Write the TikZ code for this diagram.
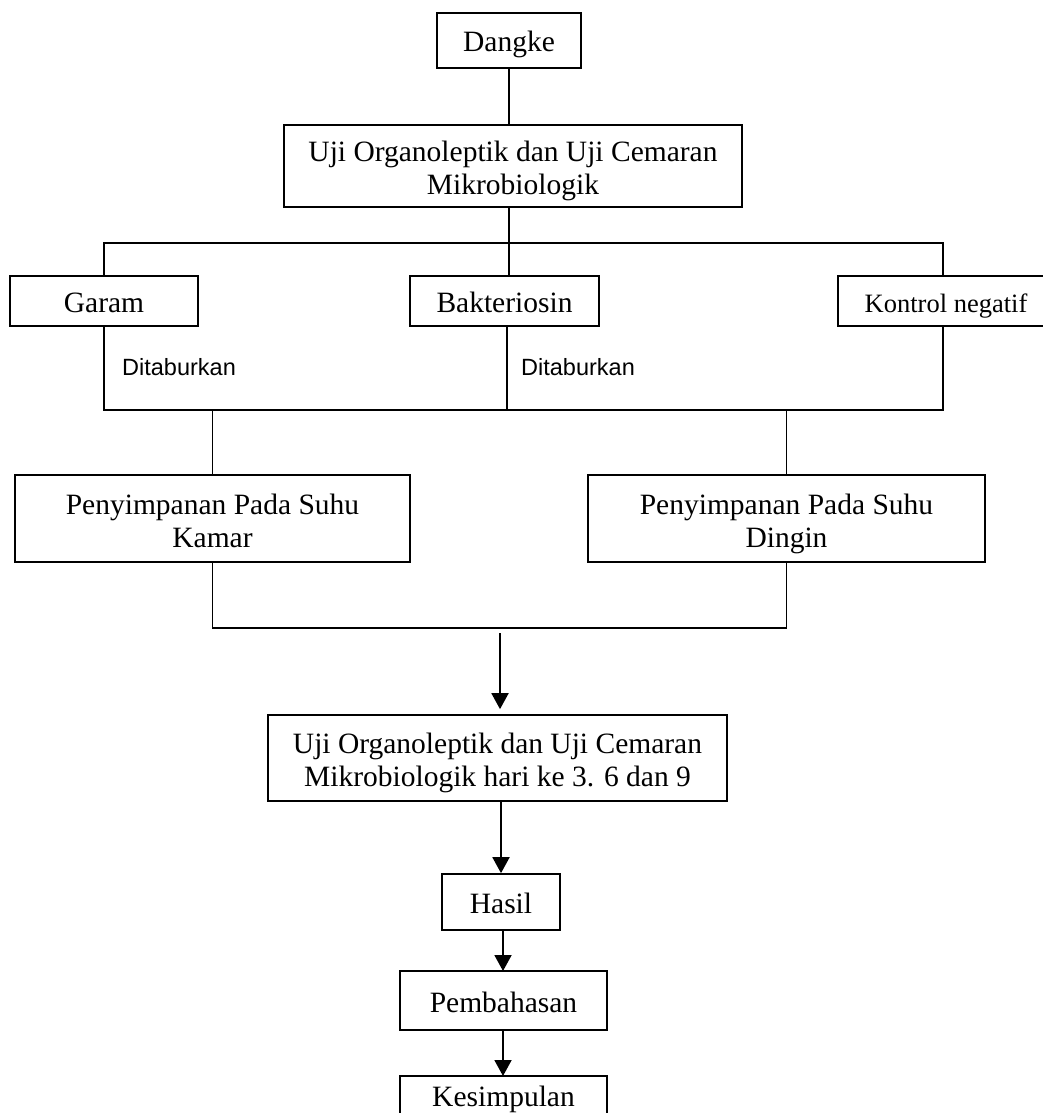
\documentclass[tikz,border=0pt]{standalone}
\usepackage{fontspec}
\setmainfont{Liberation Serif}
\newfontfamily\labelfont{Liberation Sans}
\usepackage{tikz}
\usetikzlibrary{arrows.meta,positioning,calc}

\begin{document}
\begin{tikzpicture}[
    x=1pt,y=-1pt,
    >={Triangle[length=16pt,width=17pt]},
    line/.style={draw=black,line width=1.5pt},
    arrow/.style={->,draw=black,line width=1.9pt},
    stepbox/.style={draw=black,line width=1.7pt,inner sep=0pt,align=center,
      text height=24pt,text depth=1pt,font=\fontsize{29.5}{33}\selectfont},
    twoline/.style={stepbox,text height=58pt},
    note/.style={anchor=base west,inner sep=0pt,font=\labelfont\fontsize{23.5}{27}\selectfont}
  ]
    \useasboundingbox (0,0) rectangle (1043,1113);
    % boxes
    \node[stepbox,minimum width=144pt,minimum height=55pt] (dangke) at (509,40.5) {Dangke};
    \node[twoline,minimum width=458pt,minimum height=82pt] (uji1) at (513,166)
      {Uji Organoleptik dan Uji Cemaran\\Mikrobiologik};
    \node[stepbox,minimum width=188pt,minimum height=50pt] (garam) at (104,301) {Garam};
    \node[stepbox,minimum width=189pt,minimum height=50pt] (bakteri) at (504.5,301) {Bakteriosin};
    \node[stepbox,minimum width=216pt,minimum height=50pt,
      font=\fontsize{26.5}{31}\selectfont] (kontrol) at (946,301) {Kontrol negatif};
    \node[twoline,minimum width=395pt,minimum height=87pt] (kamar) at (212.5,518.5)
      {Penyimpanan Pada Suhu\\Kamar};
    \node[twoline,minimum width=397pt,minimum height=87pt] (dingin) at (786.5,518.5)
      {Penyimpanan Pada Suhu\\Dingin};
    \node[twoline,minimum width=459pt,minimum height=86pt] (uji2) at (497.5,758)
      {Uji Organoleptik dan Uji Cemaran\\Mikrobiologik hari ke 3. 6 dan 9};
    \node[stepbox,minimum width=118pt,minimum height=56pt] (hasil) at (501,902) {Hasil};
    \node[stepbox,minimum width=207pt,minimum height=59pt] (bahas) at (503.5,1000.5) {Pembahasan};
    \node[stepbox,minimum width=207pt,minimum height=38pt] (simpul) at (503.5,1095) {Kesimpulan};
    % bus points
    \coordinate (topL) at (104,243);
    \coordinate (topM) at (509,243);
    \coordinate (topR) at (943,243);
    \coordinate (midL) at (104,410);
    \coordinate (midR) at (943,410);
    \coordinate (lowL) at (214,628);
    \coordinate (lowM) at (500,633);
    % connectors
    \draw[line] (dangke.south) -- (dangke.south |- uji1.north);
    \draw[line] (uji1.south -| topM) -- (topM) -- (bakteri.north -| topM);
    \draw[line] (garam.north) |- (topR) -- (topR |- kontrol.north);
    \draw[line] (garam.south) -- (midL) -- (midR) -- (midR |- kontrol.south);
    \draw[line] (bakteri.south -| 507,0) -- (507,410);
    \draw[line] (kamar.north) -- (kamar.north |- midL);
    \draw[line] (dingin.north) -- (dingin.north |- midL);
    \draw[line] (kamar.south) |- (dingin.south |- lowL) -- (dingin.south);
    \draw[arrow,shorten >=5pt] (lowM) -- (lowM |- uji2.north);
    \draw[arrow] (uji2.south -| hasil.north) -- (hasil.north);
    \draw[arrow] (hasil.south -| 503,0) -- (503,971);
    \draw[arrow] (bahas.south -| 503,0) -- (503,1076);
    % labels
    \node[note] (tabur1) at (122,375) {Ditaburkan};
    \node[note] (tabur2) at (521,375) {Ditaburkan};
\end{tikzpicture}
\end{document}
